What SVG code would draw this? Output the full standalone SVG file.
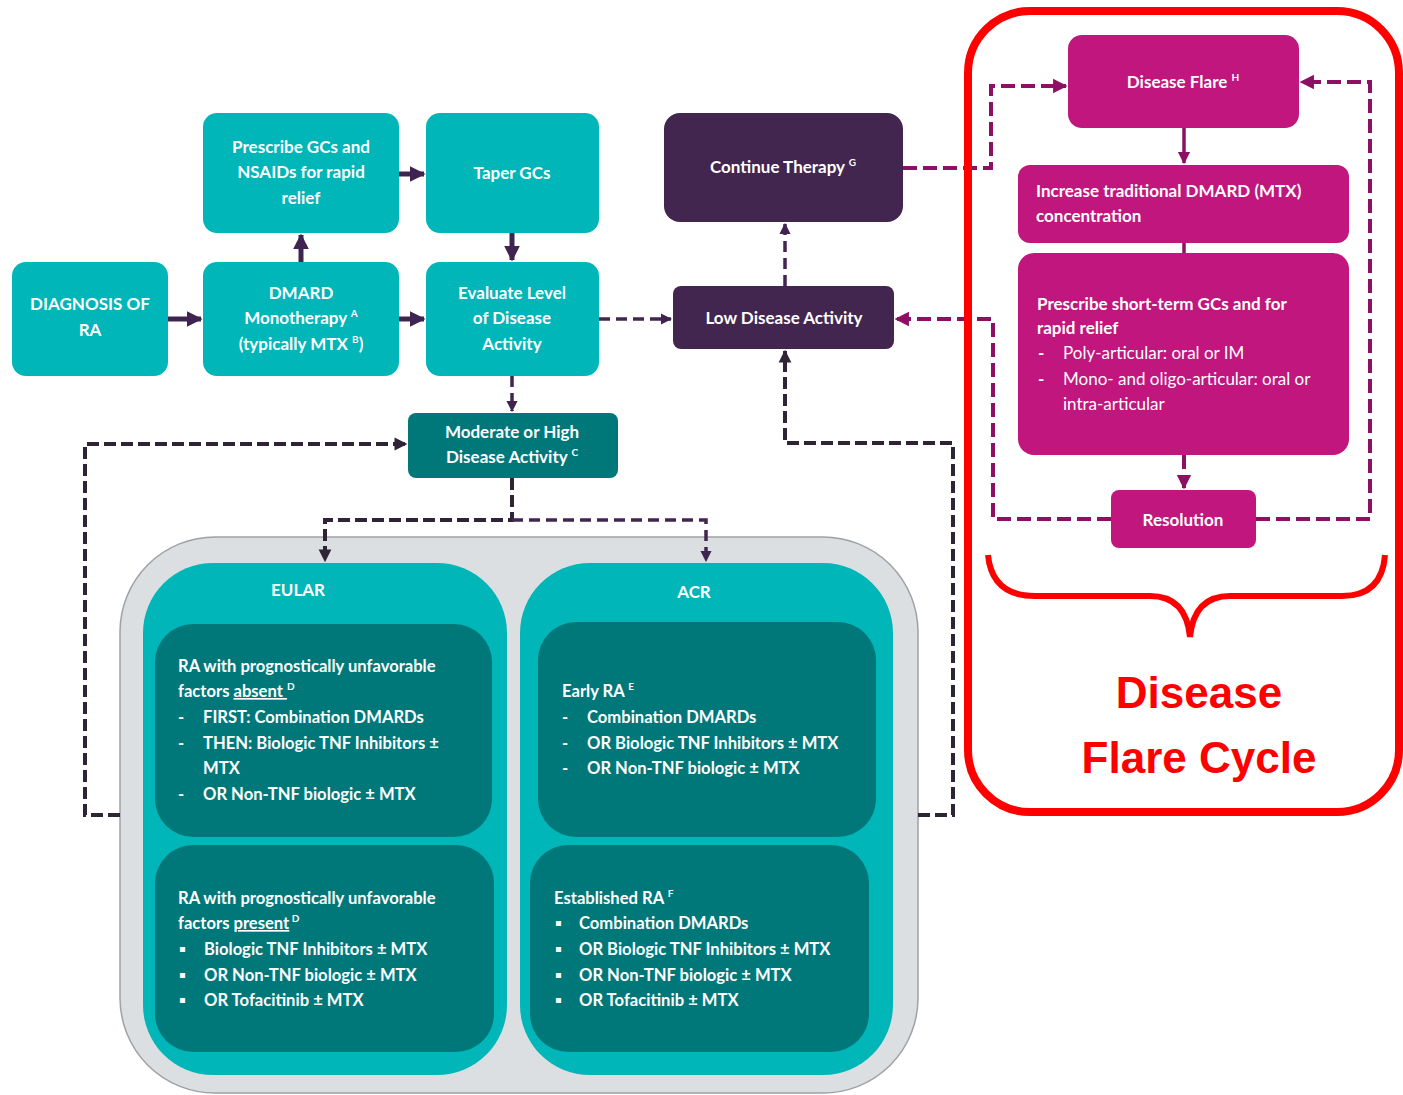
<svg xmlns="http://www.w3.org/2000/svg" width="1403" height="1095" viewBox="0 0 1403 1095">
<defs>
<style>
.t{font-family:Lato,"Liberation Sans",sans-serif;font-weight:700;fill:#fff;font-size:17px}
.s{font-size:16.6px}
.r{font-weight:400}
.c{text-anchor:middle}
.teal{fill:#00B6B8}
.dteal{fill:#00787A}
.purp{fill:#42264F}
.mag{fill:#C0167E}
.solid{fill:none;stroke:#3F2452;stroke-width:5}
.dash{fill:none;stroke:#2E2436;stroke-width:4;stroke-dasharray:12 5}
.dashp{fill:none;stroke:#42264F;stroke-width:3.5;stroke-dasharray:11 6}
.msolid{fill:none;stroke:#8E1065;stroke-width:3.5}
.mdash{fill:none;stroke:#8E1065;stroke-width:4;stroke-dasharray:14 6}
.sup{font-size:10px}
</style>
<marker id="ap" viewBox="0 0 10 10" refX="9" refY="5" markerWidth="3.2" markerHeight="3.2" orient="auto" markerUnits="strokeWidth"><path d="M0,0 L10,5 L0,10 z" fill="#3F2452"/></marker>
<marker id="ad" viewBox="0 0 10 10" refX="9" refY="5" markerWidth="3.2" markerHeight="3.6" orient="auto" markerUnits="strokeWidth"><path d="M0,0 L10,5 L0,10 z" fill="#2E2436"/></marker>
<marker id="am" viewBox="0 0 10 10" refX="9" refY="5" markerWidth="3.6" markerHeight="3.8" orient="auto" markerUnits="strokeWidth"><path d="M0,0 L10,5 L0,10 z" fill="#8E1065"/></marker>
</defs>
<rect width="1403" height="1095" fill="#fff"/>

<g id="guidelines">
<rect x="120" y="537" width="798" height="556" rx="95" fill="#DCDFE1" stroke="#9EA2A5" stroke-width="1.5"/>
</g>
<g id="eular">
<rect x="143" y="563" width="364" height="512" rx="70" class="teal"/>
<text class="t c" x="298" y="596">EULAR</text>
</g>
<g id="acr">
<rect x="520" y="563" width="373" height="512" rx="70" class="teal"/>
<text class="t c" x="694" y="598">ACR</text>
</g>
<g id="eular-absent">
<rect x="155" y="624" width="337" height="213" rx="38" class="dteal"/>
<text class="t s" x="178" y="672">RA with prognostically unfavorable</text>
<text class="t s" x="178" y="697">factors <tspan text-decoration="underline">absent </tspan><tspan class="sup" dy="-7">D</tspan></text>
<text class="t s" x="178" y="723">-</text><text class="t s" x="203" y="723">FIRST: Combination DMARDs</text>
<text class="t s" x="178" y="749">-</text><text class="t s" x="203" y="749">THEN: Biologic TNF Inhibitors ±</text>
<text class="t s" x="203" y="774">MTX</text>
<text class="t s" x="178" y="800">-</text><text class="t s" x="203" y="800">OR Non-TNF biologic ± MTX</text>
</g>
<g id="eular-present">
<rect x="155" y="845" width="339" height="207" rx="38" class="dteal"/>
<text class="t s" x="178" y="904">RA with prognostically unfavorable</text>
<text class="t s" x="178" y="929">factors <tspan text-decoration="underline">present</tspan><tspan class="sup" dy="-7"> D</tspan></text>
<text class="t s" x="179" y="955">▪</text><text class="t s" x="204" y="955">Biologic TNF Inhibitors ± MTX</text>
<text class="t s" x="179" y="981">▪</text><text class="t s" x="204" y="981">OR Non-TNF biologic ± MTX</text>
<text class="t s" x="179" y="1006">▪</text><text class="t s" x="204" y="1006">OR Tofacitinib ± MTX</text>
</g>
<g id="acr-early">
<rect x="538" y="622" width="338" height="215" rx="38" class="dteal"/>
<text class="t s" x="562" y="697">Early RA <tspan class="sup" dy="-7">E</tspan></text>
<text class="t s" x="562" y="723">-</text><text class="t s" x="587" y="723">Combination DMARDs</text>
<text class="t s" x="562" y="749">-</text><text class="t s" x="587" y="749">OR Biologic TNF Inhibitors ± MTX</text>
<text class="t s" x="562" y="774">-</text><text class="t s" x="587" y="774">OR Non-TNF biologic ± MTX</text>
</g>
<g id="acr-established">
<rect x="530" y="845" width="339" height="207" rx="38" class="dteal"/>
<text class="t s" x="554" y="904">Established RA <tspan class="sup" dy="-7">F</tspan></text>
<text class="t s" x="555" y="929">▪</text><text class="t s" x="579" y="929">Combination DMARDs</text>
<text class="t s" x="555" y="955">▪</text><text class="t s" x="579" y="955">OR Biologic TNF Inhibitors ± MTX</text>
<text class="t s" x="555" y="981">▪</text><text class="t s" x="579" y="981">OR Non-TNF biologic ± MTX</text>
<text class="t s" x="555" y="1006">▪</text><text class="t s" x="579" y="1006">OR Tofacitinib ± MTX</text>
</g>

<g id="connectors">
<path class="solid" d="M168,319 H201" marker-end="url(#ap)"/>
<path class="solid" d="M301,262 V235" marker-end="url(#ap)"/>
<path class="solid" d="M399,174 H424" marker-end="url(#ap)"/>
<path class="solid" d="M512,233 V260" marker-end="url(#ap)"/>
<path class="solid" d="M399,319 H424" marker-end="url(#ap)"/>
<path class="dashp" d="M599,319 H671" marker-end="url(#ap)"/>
<path class="dashp" d="M512,376 V411" marker-end="url(#ap)"/>
<path class="dash" d="M512,478 V520 H325 V561" marker-end="url(#ad)"/>
<path class="dashp" d="M512,520 H706 V561" marker-end="url(#ap)"/>
<path class="dash" d="M120,815 H85 V444 H406" marker-end="url(#ad)"/>
<path class="dash" d="M918,815 H953 V443 H785 V351" marker-end="url(#ad)"/>
<path class="dashp" d="M785,286 V224" marker-end="url(#ap)"/>
<path class="mdash" d="M903,168 H991 V86 H1066" marker-end="url(#am)"/>
<path class="msolid" d="M1184,128 V163" marker-end="url(#am)"/>
<path class="msolid" d="M1184,243 V253"/>
<path class="mdash" d="M1184,455 V488" marker-end="url(#am)"/>
<path class="mdash" d="M1111,519 H993 V319 H896" marker-end="url(#am)"/>
<path class="mdash" d="M1256,519 H1370 V82 H1301" marker-end="url(#am)"/>
</g>

<g id="diagnosis">
<rect x="12" y="262" width="156" height="114" rx="14" class="teal"/>
<text class="t c" x="90" y="310">DIAGNOSIS OF</text>
<text class="t c" x="90" y="336">RA</text>
</g>
<g id="dmard">
<rect x="203" y="262" width="196" height="114" rx="14" class="teal"/>
<text class="t c" x="301" y="299">DMARD</text>
<text class="t c" x="301" y="324">Monotherapy <tspan class="sup" dy="-7">A</tspan></text>
<text class="t c" x="301" y="350">(typically MTX <tspan class="sup" dy="-7">B</tspan><tspan dy="7">)</tspan></text>
</g>
<g id="prescribe-gcs">
<rect x="203" y="113" width="196" height="120" rx="14" class="teal"/>
<text class="t c" x="301" y="153">Prescribe GCs and</text>
<text class="t c" x="301" y="178">NSAIDs for rapid</text>
<text class="t c" x="301" y="204">relief</text>
</g>
<g id="taper">
<rect x="426" y="113" width="173" height="120" rx="14" class="teal"/>
<text class="t c" x="512" y="179">Taper GCs</text>
</g>
<g id="evaluate">
<rect x="426" y="262" width="173" height="114" rx="14" class="teal"/>
<text class="t c" x="512" y="299">Evaluate Level</text>
<text class="t c" x="512" y="324">of Disease</text>
<text class="t c" x="512" y="350">Activity</text>
</g>
<g id="moderate">
<rect x="408" y="413" width="210" height="65" rx="8" class="dteal"/>
<text class="t c" x="512" y="438">Moderate or High</text>
<text class="t c" x="512" y="463">Disease Activity <tspan class="sup" dy="-7">C</tspan></text>
</g>
<g id="low">
<rect x="673" y="286" width="221" height="63" rx="8" class="purp"/>
<text class="t c" x="784" y="324">Low Disease Activity</text>
</g>
<g id="continue">
<rect x="664" y="113" width="239" height="109" rx="16" class="purp"/>
<text class="t c" x="783" y="173">Continue Therapy <tspan class="sup" dy="-7">G</tspan></text>
</g>

<g id="flare">
<rect x="1068" y="35" width="231" height="93" rx="14" class="mag"/>
<text class="t c" x="1183" y="88">Disease Flare <tspan class="sup" dy="-7">H</tspan></text>
</g>
<g id="increase">
<rect x="1018" y="165" width="331" height="78" rx="12" class="mag"/>
<text class="t" x="1036" y="197">Increase traditional DMARD (MTX)</text>
<text class="t" x="1036" y="222">concentration</text>
</g>
<g id="short-term">
<rect x="1018" y="253" width="331" height="202" rx="16" class="mag"/>
<text class="t" x="1037" y="310">Prescribe short-term GCs and for</text>
<text class="t" x="1037" y="334">rapid relief</text>
<text class="t" x="1038" y="359">-</text><text class="t r" x="1063" y="359">Poly-articular: oral or IM</text>
<text class="t" x="1038" y="385">-</text><text class="t r" x="1063" y="385">Mono- and oligo-articular: oral or</text>
<text class="t r" x="1063" y="410">intra-articular</text>
</g>
<g id="resolution">
<rect x="1111" y="490" width="145" height="58" rx="8" class="mag"/>
<text class="t c" x="1183" y="526">Resolution</text>
</g>
<g id="flare-cycle-frame">
<rect x="968" y="11" width="431" height="801" rx="62" fill="none" stroke="#FF0000" stroke-width="8"/>
<path d="M988,555 Q992,596 1035,596 H1150 Q1186,596 1190,637 Q1194,596 1230,596 H1342 Q1382,596 1385,555" fill="none" stroke="#FF0000" stroke-width="6"/>
<text x="1199" y="708" text-anchor="middle" font-family="'Liberation Sans',Arial,sans-serif" font-weight="700" font-size="44" fill="#FF0000">Disease</text>
<text x="1199" y="773" text-anchor="middle" font-family="'Liberation Sans',Arial,sans-serif" font-weight="700" font-size="44" fill="#FF0000">Flare Cycle</text>
</g>
</svg>
